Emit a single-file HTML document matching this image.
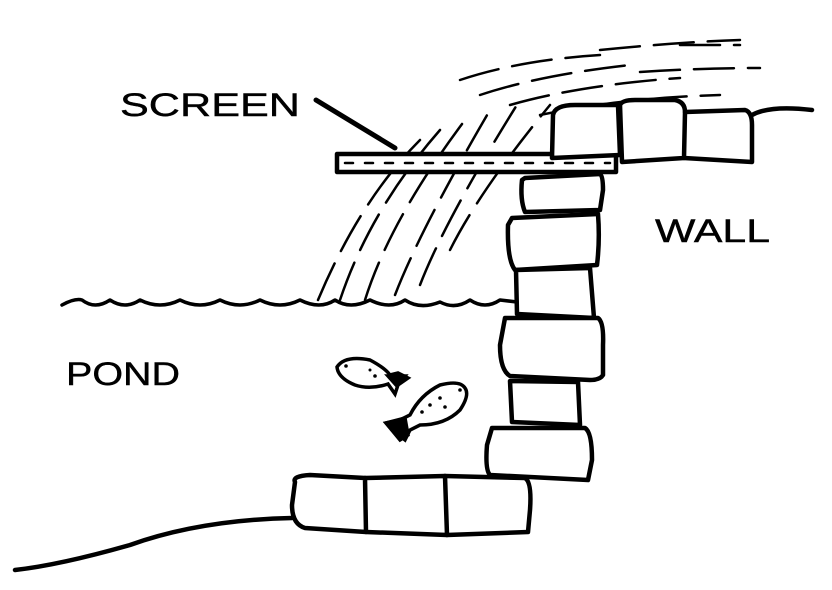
<!DOCTYPE html>
<html><head><style>
html,body{margin:0;padding:0;background:#fff;}
svg{display:block}
text{font-family:"Liberation Sans",sans-serif;font-size:32px;fill:#000;stroke:#000;stroke-width:0.4}
</style></head><body>
<svg width="832" height="590" viewBox="0 0 832 590" xmlns="http://www.w3.org/2000/svg">
<g fill="none" stroke="#000" stroke-width="4.5" stroke-linecap="round" stroke-linejoin="round">
<g stroke-width="2.5" stroke-dasharray="40 14">
<path d="M318 300 Q360 200 420 140"/>
<path d="M340 300 Q370 210 440 130"/>
<path d="M365 300 Q390 220 465 120"/>
<path d="M395 295 Q420 230 490 110"/>
<path d="M420 285 Q445 220 520 100"/>
<path d="M450 250 Q480 190 550 105"/>
<path d="M460 80 Q520 60 600 55"/>
<path d="M480 95 Q540 75 630 65"/>
<path d="M510 105 Q580 85 680 78"/>
<path d="M540 115 Q620 98 720 95"/>
<path d="M600 50 Q680 42 740 40"/>
<path d="M640 72 Q700 68 760 68"/>
<path d="M680 45 L740 45"/>
</g>
<rect x="337" y="154" width="279" height="18" fill="#fff"/>
<path d="M345 163 L610 163" stroke-width="2.5" stroke-dasharray="8 12"/>
<path d="M316 100 L395 148" stroke-width="5"/>
<path d="M553 115 Q555 105 575 105 L618 105 L620 155 L552 158 Z" fill="#fff"/>
<path d="M620 105 Q622 100 635 100 L675 100 Q685 102 685 112 L684 158 L622 162 Z" fill="#fff"/>
<path d="M685 112 L745 110 Q752 112 752 125 L752 162 L684 158"/>
<path d="M752 115 Q770 105 812 110"/>
<path d="M525 178 L600 174 Q603 176 603 190 L600 210 L525 212 Q520 200 522 180 Z" fill="#fff"/>
<path d="M512 218 L598 214 Q600 240 597 265 L515 270 Q507 260 508 225 Z" fill="#fff"/>
<path d="M516 270 L590 268 L594 318 L517 314 Z" fill="#fff"/>
<path d="M505 318 L598 318 Q604 322 603 345 L603 375 Q600 380 590 380 L510 376 Q500 370 500 345 Z" fill="#fff"/>
<path d="M510 381 L578 382 L580 425 L512 422 Z" fill="#fff"/>
<path d="M492 428 L585 428 Q592 432 592 460 L588 480 L490 475 Q485 470 487 445 Z" fill="#fff"/>
<path d="M295 482 Q292 476 310 475 L365 478 L366 532 L305 528 Q292 524 292 505 Z" fill="#fff"/>
<path d="M365 478 L445 476 L447 535 L366 532"/>
<path d="M445 476 L525 478 Q532 482 530 510 L528 532 L447 535"/>
<path d="M292 518 Q200 520 130 545 Q60 565 15 570"/>
<path d="M62 305 Q75 298 82 300 Q95 310 110 300 Q125 310 140 300 Q160 310 180 300 Q200 310 220 300 Q240 310 260 300 Q280 310 300 300 Q320 310 335 300 Q350 310 370 300 Q390 310 405 300 Q420 310 440 302 Q455 310 470 300 Q485 310 500 300 L517 302" stroke-width="3.5"/>
</g>
<g stroke="#000" stroke-width="3.5" fill="#fff">
<path d="M337 367 Q345 355 370 360 Q385 368 390 375 L398 373 L408 378 L398 385 L395 394 L388 384 Q370 390 355 385 Q338 378 337 367 Z"/>
<path d="M388 376 L405 376 L397 386 Z" fill="#000"/>
</g>
<g stroke="#000" stroke-width="3.5" fill="#fff">
<path d="M465 388 Q470 395 460 410 Q445 425 420 425 L410 430 L405 440 L392 430 L386 423 L400 420 L410 415 Q420 395 440 385 Q460 380 465 388 Z"/>
<path d="M386 423 L405 418 L408 435 L400 440 Z" fill="#000"/>
</g>
<g fill="#000">
<circle cx="346" cy="366" r="1.8"/><circle cx="375" cy="376" r="1.8"/><circle cx="370" cy="370" r="1.5"/>
<circle cx="440" cy="398" r="1.8"/><circle cx="430" cy="405" r="1.8"/><circle cx="445" cy="407" r="1.8"/><circle cx="422" cy="412" r="1.8"/><circle cx="460" cy="390" r="1.8"/>
</g>
<text x="120" y="116" textLength="180" lengthAdjust="spacingAndGlyphs">SCREEN</text>
<text x="655" y="242" textLength="115" lengthAdjust="spacingAndGlyphs">WALL</text>
<text x="66" y="385" textLength="114" lengthAdjust="spacingAndGlyphs">POND</text>
</svg>
</body></html>
